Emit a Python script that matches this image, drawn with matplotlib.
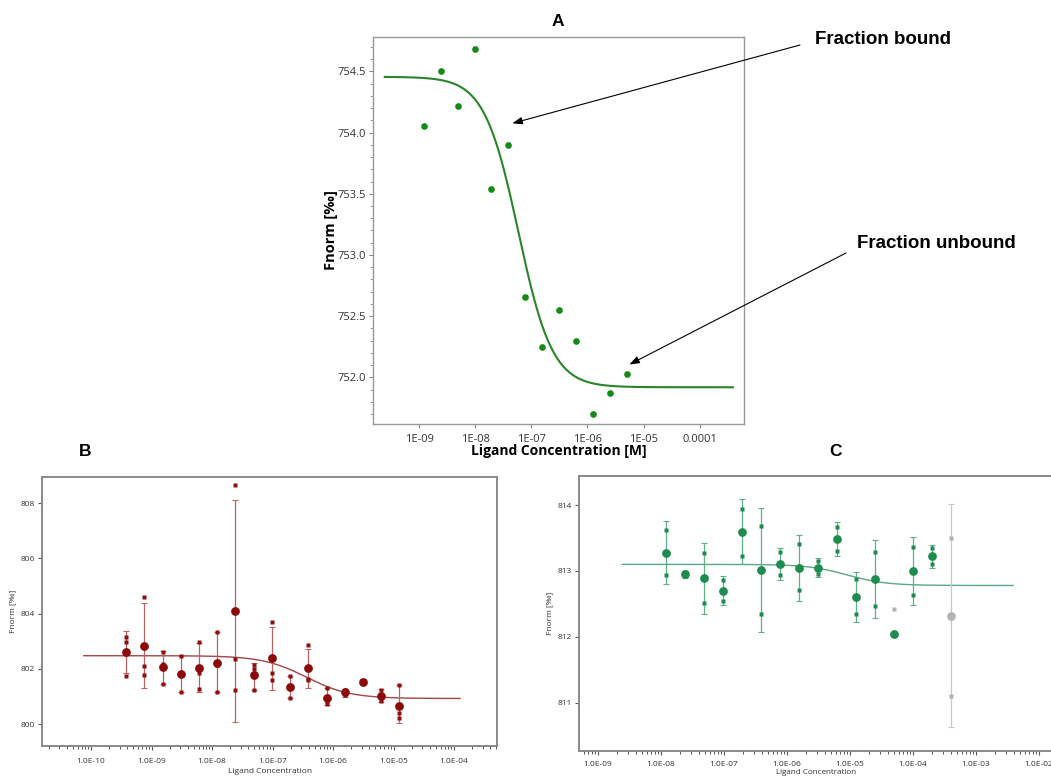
import numpy as np
import matplotlib
matplotlib.use("Agg")
import matplotlib.pyplot as plt
from matplotlib.ticker import FixedLocator, FuncFormatter, MultipleLocator, LogLocator, NullFormatter

plt.rcParams['font.family'] = ['Open Sans', 'DejaVu Sans']

# ---------------- Panel A data ----------------
a_conc = [1.22e-9, 2.44e-9, 4.88e-9, 9.77e-9, 1.95e-8, 3.91e-8, 7.81e-8,
          1.56e-7, 3.13e-7, 6.25e-7, 1.25e-6, 2.5e-6, 5.0e-6]
a_fnorm = [754.05, 754.50, 754.22, 754.685, 753.536, 753.90, 752.656,
           752.248, 752.553, 752.294, 751.703, 751.872, 752.025]
a_fit = dict(top=754.455, bottom=751.92, ec50=5.9e-8, hill=1.43, xmin=2.45e-10, xmax=3.9e-4)
a_xticks = [1e-9, 1e-8, 1e-7, 1e-6, 1e-5, 1e-4]
a_xticklabels = ["1E-09", "1E-08", "1E-07", "1E-06", "1E-05", "0.0001"]
a_yticks = [752.0, 752.5, 753.0, 753.5, 754.0, 754.5]

# ---------------- Panel B data ----------------
b_conc = [3.81e-10, 7.63e-10, 1.53e-9, 3.05e-9, 6.10e-9, 1.22e-8, 2.44e-8, 4.88e-8,
          9.77e-8, 1.95e-7, 3.91e-7, 7.81e-7, 1.56e-6, 3.13e-6, 6.25e-6, 1.25e-5]
b_mean = [802.63, 802.83, 802.08, 801.81, 802.03, 802.22, 804.10, 801.78,
          802.39, 801.35, 802.02, 800.96, 801.15, 801.53, 801.03, 800.67]
b_err_low = [801.86, 801.31, 801.45, 801.16, 801.16, 801.15, 800.09, 801.22,
             801.24, 800.94, 801.31, 800.68, 801.00, 801.44, 800.81, 800.04]
b_err_high = [803.39, 804.39, 802.64, 802.48, 802.94, 803.33, 808.12, 802.22,
              803.52, 801.76, 802.73, 801.32, 801.24, 801.63, 801.26, 801.43]
b_rep1 = [803.17, 804.61, 802.62, 802.48, 802.97, 803.35, 808.67, 802.15,
          803.71, 801.76, 802.85, 801.30, 801.22, 801.58, 801.22, 801.42]
b_rep2 = [802.97, 802.11, 802.17, 801.79, 801.87, 802.16, 802.37, 801.99,
          801.86, 801.35, 801.62, 800.85, 801.15, 801.52, 801.02, 800.39]
b_rep3 = [801.76, 801.78, 801.45, 801.16, 801.27, 801.15, 801.25, 801.25,
          801.61, 800.94, 801.59, 800.72, 801.07, 801.49, 800.85, 800.21]
b_fit = dict(top=802.48, bottom=800.93, ec50=3.6e-7, hill=1.2, xmin=7.6e-11, xmax=1.25e-4)
b_xticks = [1e-10, 1e-9, 1e-8, 1e-7, 1e-6, 1e-5, 1e-4]
b_yticks = [800, 802, 804, 806, 808]

# ---------------- Panel C data ----------------
c_conc = [1.22e-8, 2.44e-8, 4.88e-8, 9.77e-8, 1.95e-7, 3.91e-7, 7.81e-7, 1.56e-6,
          3.13e-6, 6.25e-6, 1.25e-5, 2.5e-5, 5.0e-5, 1.0e-4, 2.0e-4, 4.0e-4]
c_mean = [813.27, 812.95, 812.89, 812.70, 813.59, 813.01, 813.10, 813.05,
          813.05, 813.48, 812.60, 812.88, 812.04, 813.00, 813.22, 812.31]
c_err_low = [812.80, 812.90, 812.35, 812.48, 813.10, 812.07, 812.86, 812.55,
             812.91, 813.23, 812.23, 812.29, np.nan, 812.49, 813.05, 810.63]
c_err_high = [813.76, 813.00, 813.43, 812.93, 814.09, 813.96, 813.35, 813.55,
              813.19, 813.74, 812.98, 813.47, np.nan, 813.52, 813.40, 814.01]
c_rep1 = [813.62, 812.98, 813.27, 812.86, 813.94, 813.68, 813.28, 813.41,
          813.15, 813.66, 812.88, 813.29, 812.43, 813.37, 813.35, 813.50]
c_rep2 = [812.94, 812.92, 812.51, 812.54, 813.23, 812.35, 812.94, 812.71,
          812.95, 813.31, 812.34, 812.47, np.nan, 812.64, 813.10, 811.11]
c_point_excluded = [False]*15 + [True]
c_rep1_excluded = [False]*12 + [True] + [False]*2 + [True]
c_fit = dict(top=813.10, bottom=812.78, ec50=9.0e-6, hill=1.4, xmin=2.45e-9, xmax=3.9e-3)
c_xticks = [1e-9, 1e-8, 1e-7, 1e-6, 1e-5, 1e-4, 1e-3, 1e-2]
c_yticks = [811, 812, 813, 814]


def hill(c, p):
    return p['bottom'] + (p['top'] - p['bottom']) / (1.0 + (c / p['ec50']) ** p['hill'])


W, H = 1051, 778
fig = plt.figure(figsize=(W / 100, H / 100), dpi=100)


def box(l, t, r, b):
    return [l / W, (H - b) / H, (r - l) / W, (b - t) / H]


# ================= Panel A =================
axA = fig.add_axes(box(373, 37, 744, 424))
axA.set_xscale('log')
axA.set_xlim(10 ** -9.82, 10 ** -3.21)
axA.set_ylim(751.62, 754.78)
xs = np.logspace(np.log10(a_fit['xmin']), np.log10(a_fit['xmax']), 400)
axA.plot(xs, hill(xs, a_fit), color='#2a842a', lw=1.5)
axA.plot(a_conc, a_fnorm, 'o', color='#158a15', ms=4.8, mec='none')
axA.xaxis.set_major_locator(FixedLocator(a_xticks))
axA.xaxis.set_major_formatter(FuncFormatter(lambda v, p: a_xticklabels[a_xticks.index(v)] if v in a_xticks else ""))
axA.xaxis.set_minor_locator(FixedLocator([]))
axA.yaxis.set_major_locator(FixedLocator(a_yticks))
axA.yaxis.set_major_formatter(FuncFormatter(lambda v, p: f"{v:.1f}"))
axA.yaxis.set_minor_locator(MultipleLocator(0.1))
axA.tick_params(axis='both', which='major', labelsize=8, labelcolor='#333333', color='#888888',
                length=3, width=0.8)
axA.tick_params(axis='x', which='major', pad=4.5)
axA.tick_params(axis='y', which='major', pad=2)
axA.tick_params(axis='y', which='minor', length=2, color='#888888', width=0.6)
for s in axA.spines.values():
    s.set_color('#999999'); s.set_linewidth(1.0)
axA.set_xlabel("Ligand Concentration [M]", fontsize=10, fontweight='bold', labelpad=-1)
axA.set_ylabel("Fnorm [‰]", fontsize=10.5, fontweight='bold', labelpad=0)
fig.text(558 / W, 1 - 22 / H, "A", ha='center', va='center', fontsize=12.5, fontweight='bold',
         family='Liberation Sans')

# Annotations
ann_kw = dict(xycoords='data', textcoords='figure pixels',
              arrowprops=dict(arrowstyle='-|>,head_length=0.6,head_width=0.22', color='black', lw=0.8,
                              shrinkA=0, shrinkB=0))
axA.annotate("", xy=(4.6e-8, 754.075), xytext=(800, H - 45), **ann_kw)
axA.annotate("", xy=(5.6e-6, 752.106), xytext=(846, H - 253), **ann_kw)
fig.text(815 / W, 1 - 39 / H, "Fraction bound", ha='left', va='center', fontsize=13.5,
         fontweight='bold', family='Liberation Sans')
fig.text(857 / W, 1 - 244 / H, "Fraction unbound", ha='left', va='center', fontsize=13.5,
         fontweight='bold', family='Liberation Sans')


def style_small(ax, xticks, yticks, xpad):
    ax.set_xscale('log')
    ax.xaxis.set_major_locator(FixedLocator(xticks))
    ax.xaxis.set_major_formatter(FuncFormatter(lambda v, p: "1.0E-%02d" % round(-np.log10(v))))
    ax.xaxis.set_minor_locator(LogLocator(base=10, subs=np.arange(2, 10), numticks=30))
    ax.xaxis.set_minor_formatter(NullFormatter())
    ax.yaxis.set_major_locator(FixedLocator(yticks))
    ax.tick_params(axis='both', which='major', labelsize=6, labelcolor='#333333',
                   color='#555555', length=3, width=0.8)
    ax.tick_params(axis='x', which='major', pad=xpad)
    ax.tick_params(axis='y', which='major', pad=2)
    ax.tick_params(axis='x', which='minor', length=2.2, color='#555555', width=0.7)
    for s in ax.spines.values():
        s.set_color('#8a8a8a'); s.set_linewidth(1.4)


# ================= Panel B =================
axB = fig.add_axes(box(42, 477, 497, 746))
style_small(axB, b_xticks, b_yticks, 5.5)
axB.set_xlim(10 ** -10.81, 10 ** -3.29)
axB.set_ylim(799.21, 808.95)
xs = np.logspace(np.log10(b_fit['xmin']), np.log10(b_fit['xmax']), 400)
axB.plot(xs, hill(xs, b_fit), color='#a64545', lw=1.0, zorder=2)
bm = np.array(b_mean)
axB.errorbar(b_conc, bm, yerr=[bm - np.array(b_err_low), np.array(b_err_high) - bm], fmt='none',
             ecolor='#b86464', elinewidth=0.9, capsize=2.2, capthick=0.8, zorder=3)
for rep in (b_rep1, b_rep2, b_rep3):
    axB.plot(b_conc, rep, 's', color='#8b1010', ms=2.2, mec='none', zorder=4)
axB.plot(b_conc, bm, 'o', color='#8b0a0a', ms=6.3, mec='none', zorder=5)
axB.set_xlabel("Ligand Concentration", fontsize=6, color='#333333', labelpad=2.5)
axB.set_ylabel("Fnorm [‰]", fontsize=6, color='#333333', labelpad=3)
fig.text(85 / W, 1 - 452 / H, "B", ha='center', va='center', fontsize=12.5, fontweight='bold',
         family='Liberation Sans')

# ================= Panel C =================
axC = fig.add_axes(box(579, 476, 1080, 751))
style_small(axC, c_xticks, c_yticks, 4)
axC.set_xlim(10 ** -9.30, 10 ** -1.35)
axC.set_ylim(810.27, 814.44)
xs = np.logspace(np.log10(c_fit['xmin']), np.log10(c_fit['xmax']), 400)
axC.plot(xs, hill(xs, c_fit), color='#5aa886', lw=1.0, zorder=2)
cx = np.array(c_conc); cm = np.array(c_mean)
clo = np.array(c_err_low); chi = np.array(c_err_high)
exc = np.array(c_point_excluded)
has = np.isfinite(clo)
for mask, ec in ((has & ~exc, '#5fae88'), (has & exc, '#c8c8c8')):
    axC.errorbar(cx[mask], cm[mask], yerr=[cm[mask] - clo[mask], chi[mask] - cm[mask]], fmt='none',
                 ecolor=ec, elinewidth=0.9, capsize=2.2, capthick=0.8, zorder=3)
r1 = np.array(c_rep1); r2 = np.array(c_rep2); r1x = np.array(c_rep1_excluded)
axC.plot(cx[~r1x], r1[~r1x], 's', color='#1e8c4e', ms=2.2, mec='none', zorder=4)
axC.plot(cx[r1x], r1[r1x], 's', color='#b0b0b0', ms=2.2, mec='none', zorder=4)
axC.plot(cx[~exc], r2[~exc], 's', color='#1e8c4e', ms=2.2, mec='none', zorder=4)
axC.plot(cx[exc], r2[exc], 's', color='#b0b0b0', ms=2.2, mec='none', zorder=4)
axC.plot(cx[~exc], cm[~exc], 'o', color='#1e8c4e', ms=6.3, mec='none', zorder=5)
axC.plot(cx[exc], cm[exc], 'o', color='#b4b4b4', ms=6.3, mec='none', zorder=5)
axC.set_ylabel("Fnorm [‰]", fontsize=6, color='#333333', labelpad=3)
fig.text(816 / W, 1 - 773 / H, "Ligand Concentration", ha='center', va='center', fontsize=5.8,
         color='#333333')
fig.text(836 / W, 1 - 452 / H, "C", ha='center', va='center', fontsize=12.5, fontweight='bold',
         family='Liberation Sans')

fig.savefig("out.png", dpi=100)
